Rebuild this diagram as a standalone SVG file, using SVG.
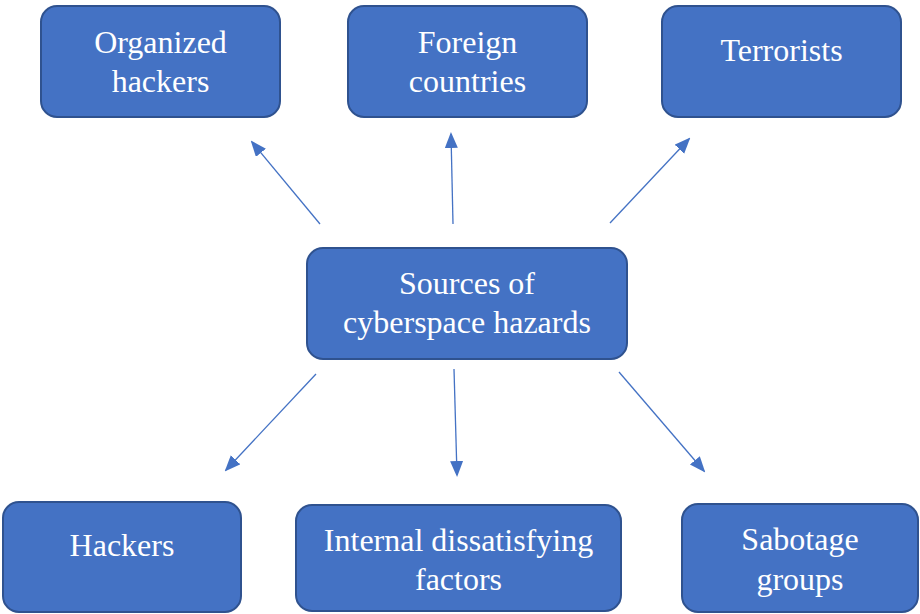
<svg xmlns="http://www.w3.org/2000/svg" width="920" height="614" viewBox="0 0 920 614">
<defs>
<style>
.box{fill:#4472C4;stroke:#2F528F;stroke-width:2}
.lbl{font-family:"Liberation Serif","Times New Roman",serif;font-size:32px;fill:#FFFFFF;text-anchor:middle}
.arr{stroke:#4472C4;stroke-width:1.3;fill:none;marker-end:url(#ah)}
</style>
<marker id="ah" markerUnits="userSpaceOnUse" markerWidth="16" markerHeight="14" refX="14" refY="6.5" orient="auto">
<path d="M0,0 L16,6.5 L0,13 Z" fill="#4472C4"/>
</marker>
</defs>
<rect width="920" height="614" fill="#FFFFFF"/>
<g id="connectors">
<line class="arr" x1="320" y1="224" x2="252" y2="142"/>
<line class="arr" x1="453" y1="224" x2="451" y2="134"/>
<line class="arr" x1="610" y1="223" x2="689" y2="139"/>
<line class="arr" x1="316" y1="374" x2="226" y2="470"/>
<line class="arr" x1="454" y1="369" x2="457" y2="475"/>
<line class="arr" x1="619" y1="372" x2="704" y2="471"/>
</g>
<g id="organized-hackers">
<rect class="box" x="41" y="6" width="239" height="111" rx="16"/>
<text class="lbl" x="160.5" y="53">Organized</text>
<text class="lbl" x="160.5" y="92">hackers</text>
</g>
<g id="foreign-countries">
<rect class="box" x="348" y="6" width="239" height="111" rx="16"/>
<text class="lbl" x="467.5" y="53">Foreign</text>
<text class="lbl" x="467.5" y="92">countries</text>
</g>
<g id="terrorists">
<rect class="box" x="662" y="6" width="239" height="111" rx="16"/>
<text class="lbl" x="781.5" y="61">Terrorists</text>
</g>
<g id="sources">
<rect class="box" x="307" y="248" width="320" height="111" rx="16"/>
<text class="lbl" x="467" y="294">Sources of</text>
<text class="lbl" x="467" y="333">cyberspace hazards</text>
</g>
<g id="hackers">
<rect class="box" x="3" y="502" width="238" height="110" rx="16"/>
<text class="lbl" x="122" y="556">Hackers</text>
</g>
<g id="internal">
<rect class="box" x="296" y="505" width="325" height="106" rx="16"/>
<text class="lbl" x="458.5" y="551">Internal dissatisfying</text>
<text class="lbl" x="458.5" y="590">factors</text>
</g>
<g id="sabotage">
<rect class="box" x="682" y="504" width="236" height="108" rx="16"/>
<text class="lbl" x="800" y="550">Sabotage</text>
<text class="lbl" x="800" y="590">groups</text>
</g>
</svg>
